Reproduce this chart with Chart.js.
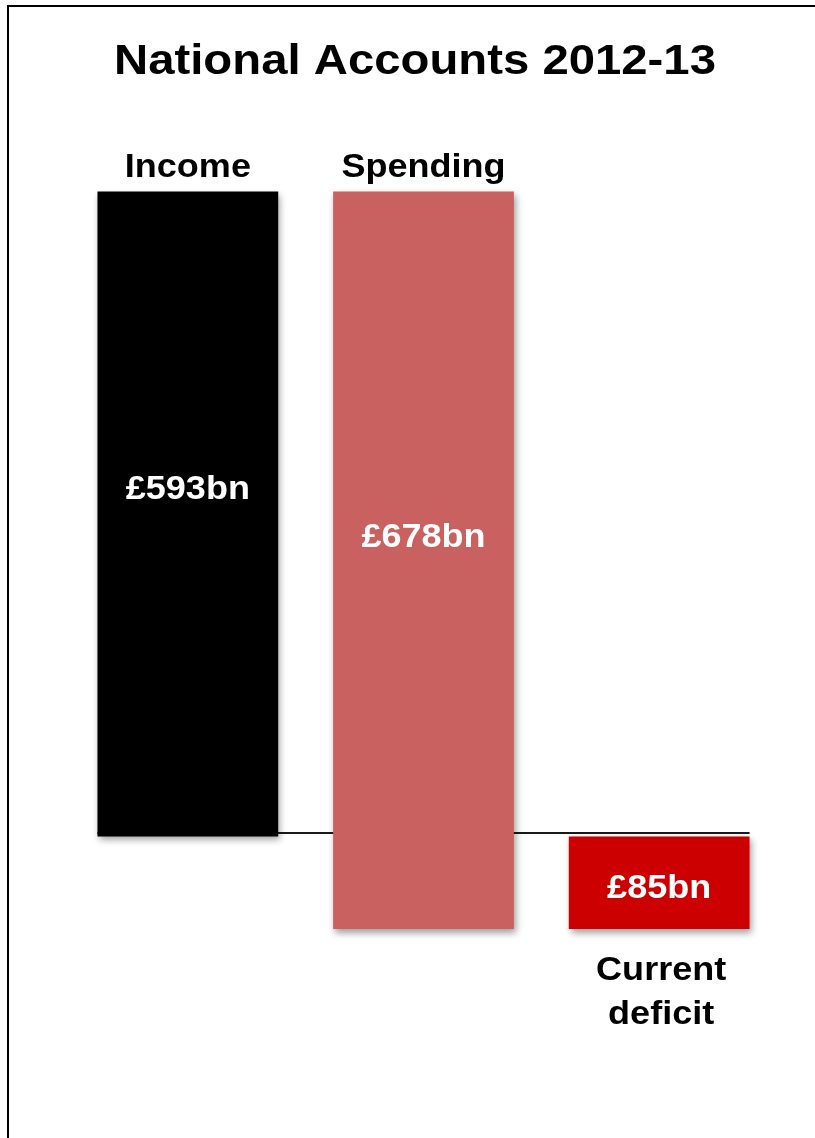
<!DOCTYPE html>
<html>
<head>
<meta charset="utf-8">
<title>National Accounts 2012-13</title>
<script src="https://cdn.jsdelivr.net/npm/chart.js@4/dist/chart.umd.min.js"></script>
<style>
  html, body { margin: 0; padding: 0; background: #ffffff; overflow: hidden; }
  #wrap { position: relative; width: 815px; height: 1138px; }
  #frame {
    position: absolute; left: 7px; top: 5px; width: 900px; height: 1300px;
    border-top: 2px solid #000; border-left: 2px solid #000; box-sizing: border-box;
    pointer-events: none;
  }
  canvas { position: absolute; left: 0; top: 0; }
</style>
</head>
<body>
<div id="wrap">
  <canvas id="chart" width="815" height="1138"></canvas>
  <div id="frame"></div>
</div>
<script>
// Figures in £bn
const categories = ['Income', 'Spending', 'Current deficit'];
const income = 593;
const spending = 678;
const deficit = 85;
// Floating bars: [start, end] for each step of the bridge
const barRanges = [[0, income], [income - spending, income], [-deficit, 0]];
const valueLabels = ['£593bn', '£678bn', '£85bn'];
const headLabels = [['Income'], ['Spending'], null];
const footLabels = [null, null, ['Current', 'deficit']];
const titleText = 'National Accounts 2012-13';

const barColours = ['#000000', '#C96160', '#CC0000'];
const FONT = '"Liberation Sans", Arial, Helvetica, sans-serif';

// stretched bold text, centred on x
function wideText(ctx, txt, x, y, size, stretch, colour) {
  ctx.save();
  ctx.font = 'bold ' + size + 'px ' + FONT;
  ctx.fillStyle = colour;
  ctx.textAlign = 'center';
  ctx.textBaseline = 'alphabetic';
  ctx.translate(x, y);
  ctx.scale(stretch, 1);
  ctx.fillText(txt, 0, 0);
  ctx.restore();
}

const bridgePlugin = {
  id: 'bridge',
  beforeDatasetsDraw(chart) {
    const ctx = chart.ctx;
    const meta = chart.getDatasetMeta(0);
    const y0 = chart.scales.y.getPixelForValue(0) - 3.5;
    const first = meta.data[0], last = meta.data[meta.data.length - 1];
    ctx.save();
    ctx.strokeStyle = '#1a1a1a';
    ctx.lineWidth = 2;
    ctx.beginPath();
    ctx.moveTo(first.x - first.width / 2, y0);
    ctx.lineTo(last.x + last.width / 2, y0);
    ctx.stroke();
    ctx.restore();
    // soft drop shadow under the bars
    ctx.save();
    ctx.shadowColor = 'rgba(0,0,0,0.38)';
    ctx.shadowBlur = 7;
    ctx.shadowOffsetX = 2;
    ctx.shadowOffsetY = 4;
  },
  afterDatasetsDraw(chart) {
    const ctx = chart.ctx;
    ctx.restore();
    const meta = chart.getDatasetMeta(0);
    const labelShift = [-27, -25, 3];
    meta.data.forEach((bar, i) => {
      const top = Math.min(bar.y, bar.base);
      const bottom = Math.max(bar.y, bar.base);
      const mid = (top + bottom) / 2 + labelShift[i];
      wideText(ctx, valueLabels[i], bar.x, mid + 12, 34, 1.06, '#ffffff');
      if (headLabels[i]) {
        headLabels[i].forEach((t, k) => wideText(ctx, t, bar.x, top - 14 - (headLabels[i].length - 1 - k) * 44, 34, 1.06, '#000000'));
      }
      if (footLabels[i]) {
        footLabels[i].forEach((t, k) => wideText(ctx, t, bar.x + 2, bottom + 51 + k * 44, 34, 1.06, '#000000'));
      }
    });
    wideText(ctx, titleText, 415, 74, 43, 1.1, '#000000');
  }
};

new Chart(document.getElementById('chart'), {
  type: 'bar',
  data: {
    labels: categories,
    datasets: [{
      data: barRanges,
      backgroundColor: barColours,
      borderWidth: 0,
      borderSkipped: false,
      categoryPercentage: 1,
      barPercentage: 0.767
    }]
  },
  options: {
    responsive: false,
    devicePixelRatio: 1,
    animation: false,
    layout: { padding: { left: 70, right: 38, top: 75, bottom: 84 } },
    plugins: { legend: { display: false }, tooltip: { enabled: false }, title: { display: false } },
    scales: {
      x: { display: false, grid: { display: false } },
      y: { display: false, min: -200, max: 700, grid: { display: false } }
    }
  },
  plugins: [bridgePlugin]
});
</script>
</body>
</html>
